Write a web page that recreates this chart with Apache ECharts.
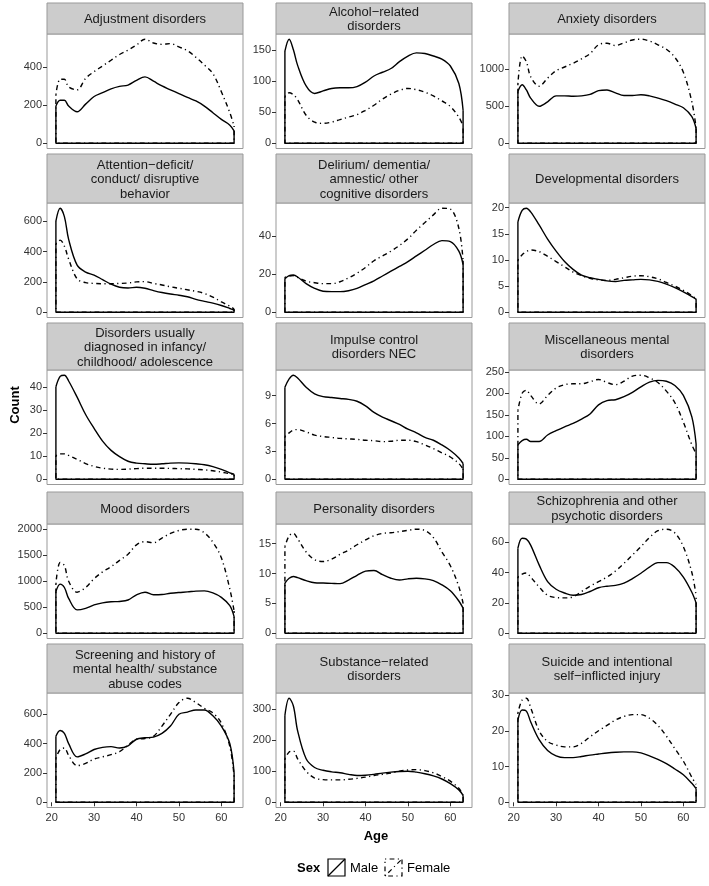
<!DOCTYPE html>
<html>
<head>
<meta charset="utf-8">
<script src="https://cdn.jsdelivr.net/npm/echarts@6/dist/echarts.min.js"></script>
<style>
  html, body { margin: 0; padding: 0; background: #fff; }
  #main { width: 709px; height: 886px; }
</style>
</head>
<body>
<div id="main"></div>
<script>
const ages = [21, 22, 23, 24, 26, 28, 30, 32, 34, 36, 38, 40, 42, 44, 46, 48, 50, 52, 54, 56, 58, 60, 62, 63];
const ageTicks = [20, 30, 40, 50, 60];

const adjustmentMale = [195, 225, 225, 195, 165, 205, 245, 265, 285, 298, 305, 330, 348, 325, 300, 280, 260, 240, 222, 195, 160, 125, 95, 65];
const adjustmentFemale = [255, 335, 335, 295, 280, 340, 375, 405, 435, 465, 488, 515, 545, 525, 518, 522, 505, 485, 450, 410, 365, 270, 160, 90];
const adjustmentTicks = [0, 200, 400];

const alcoholMale = [148, 167, 150, 125, 92, 80, 84, 88, 89, 89, 91, 98, 108, 114, 120, 131, 140, 145, 144, 140, 135, 124, 96, 53];
const alcoholFemale = [75, 81, 78, 70, 45, 34, 32, 34, 38, 42, 46, 53, 61, 71, 79, 85, 88, 86, 82, 76, 68, 59, 42, 28];
const alcoholTicks = [0, 50, 100, 150];

const anxietyMale = [700, 790, 720, 610, 500, 560, 640, 640, 635, 640, 660, 710, 720, 680, 645, 645, 655, 640, 610, 575, 530, 480, 360, 200];
const anxietyFemale = [800, 1180, 1100, 900, 770, 880, 980, 1030, 1080, 1140, 1210, 1330, 1350, 1320, 1355, 1395, 1405, 1380, 1330, 1270, 1160, 960, 560, 210];
const anxietyTicks = [0, 500, 1000];

const adhdMale = [600, 685, 630, 480, 310, 265, 245, 215, 185, 165, 160, 165, 158, 143, 130, 120, 112, 102, 85, 72, 60, 45, 25, 15];
const adhdFemale = [450, 475, 435, 350, 220, 195, 190, 188, 188, 190, 193, 200, 202, 190, 180, 168, 158, 148, 138, 124, 100, 68, 40, 22];
const adhdTicks = [0, 200, 400, 600];

const deliriumMale = [17.5, 19.2, 19.5, 18.5, 15, 12.5, 11, 10.8, 10.8, 11.3, 12.5, 14.5, 16.5, 19, 21.5, 24, 26.5, 29.5, 32.5, 35.5, 37.5, 37, 32, 25];
const deliriumFemale = [18.3, 19, 19.2, 18.3, 16.3, 15.5, 15, 15, 16, 18, 20.5, 23.5, 27, 29.5, 32, 35, 38.5, 43, 47, 51, 54.5, 54, 44, 27];
const deliriumTicks = [0, 20, 40];

const developmentalMale = [17.3, 19.5, 19.9, 19.2, 16.7, 14, 11.7, 9.7, 8.2, 7.1, 6.6, 6.3, 6, 5.9, 6.1, 6.2, 6.3, 6.2, 5.9, 5.4, 4.7, 3.9, 3, 2.5];
const developmentalFemale = [10, 11, 11.6, 11.9, 11.6, 10.7, 9.7, 8.7, 7.7, 7, 6.5, 6.2, 6.1, 6.3, 6.6, 6.9, 7, 6.8, 6.4, 5.7, 5, 4.2, 3.2, 2.6];
const developmentalTicks = [0, 5, 10, 15, 20];

const childhoodMale = [40, 44.5, 45, 42.5, 35.5, 28, 22, 16.5, 12.5, 9.8, 7.8, 7, 6.7, 6.5, 6.7, 7, 7.1, 7, 6.7, 6.3, 5.5, 4.3, 2.8, 2.2];
const childhoodFemale = [10.2, 11, 11, 10.3, 8.6, 6.8, 5.6, 4.8, 4.4, 4.3, 4.4, 4.6, 4.8, 4.8, 4.8, 4.7, 4.6, 4.5, 4.3, 4.1, 3.7, 3.1, 2.4, 2];
const childhoodTicks = [0, 10, 20, 30, 40];

const impulseMale = [9.9, 10.8, 11.2, 10.9, 9.9, 9.2, 8.9, 8.8, 8.7, 8.6, 8.4, 7.9, 7.2, 6.7, 6.3, 5.9, 5.4, 5, 4.5, 4.2, 3.7, 3.1, 2.3, 1.7];
const impulseFemale = [4.6, 5, 5.3, 5.35, 5.1, 4.75, 4.6, 4.5, 4.4, 4.35, 4.3, 4.2, 4.15, 4.05, 4.1, 4.2, 4.2, 4.05, 3.7, 3.3, 2.85, 2.4, 1.7, 1.1];
const impulseTicks = [0, 3, 6, 9];

const miscMale = [80, 90, 93, 88, 88, 103, 113, 122, 130, 140, 152, 173, 183, 185, 192, 202, 215, 226, 230, 228, 218, 195, 145, 82];
const miscFemale = [160, 200, 207, 195, 175, 195, 212, 220, 222, 222, 227, 232, 225, 220, 228, 240, 242, 236, 225, 205, 178, 133, 80, 60];
const miscTicks = [0, 50, 100, 150, 200, 250];

const moodMale = [800, 945, 880, 670, 450, 480, 545, 585, 605, 612, 640, 740, 790, 740, 745, 770, 785, 795, 810, 815, 775, 690, 530, 320];
const moodFemale = [950, 1360, 1300, 1000, 790, 880, 1050, 1180, 1280, 1400, 1520, 1700, 1760, 1740, 1830, 1920, 1975, 2000, 2000, 1930, 1750, 1450, 850, 430];
const moodTicks = [0, 500, 1000, 1500, 2000];

const personalityMale = [8.4, 9.2, 9.5, 9.3, 8.8, 8.45, 8.4, 8.35, 8.3, 8.9, 9.7, 10.4, 10.5, 9.8, 9.2, 8.9, 9.1, 9.2, 9.1, 8.8, 8.1, 7.1, 5.4, 4.2];
const personalityFemale = [14.5, 16.3, 16.7, 15.8, 13.6, 12.3, 12, 12.4, 13.2, 13.9, 14.8, 15.6, 16.3, 16.7, 16.8, 17, 17.2, 17.4, 17.2, 16, 13.6, 11.3, 7.8, 5];
const personalityTicks = [0, 5, 10, 15];

const schizoMale = [56, 62.5, 62, 58, 45, 34, 29, 26.5, 25, 25.5, 27.5, 30, 31, 31.5, 33, 36, 39.5, 43.5, 46.5, 46.5, 43.5, 37, 27, 20];
const schizoFemale = [37, 39, 39.7, 37, 30.5, 25, 23.5, 23.3, 24, 27.5, 31, 34, 37, 41, 46, 51.5, 57, 63, 67.5, 68.5, 66, 57, 40, 25];
const schizoTicks = [0, 20, 40, 60];

const screeningMale = [450, 490, 470, 400, 310, 330, 360, 375, 380, 370, 385, 430, 440, 445, 470, 520, 600, 615, 630, 630, 590, 520, 400, 200];
const screeningFemale = [300, 360, 370, 320, 250, 265, 295, 310, 325, 345, 390, 430, 435, 450, 520, 600, 680, 710, 680, 640, 610, 540, 380, 180];
const screeningTicks = [0, 200, 400, 600];

const substanceMale = [280, 335, 310, 230, 140, 112, 103, 98, 95, 90, 86, 87, 90, 94, 97, 99, 100, 97, 92, 85, 75, 60, 40, 22];
const substanceFemale = [140, 162, 165, 140, 100, 78, 73, 72, 72, 74, 77, 81, 86, 90, 94, 100, 104, 105, 102, 95, 83, 68, 45, 22];
const substanceTicks = [0, 100, 200, 300];

const suicideMale = [23, 25.8, 25.5, 22.5, 17.5, 14.5, 13, 12.5, 12.5, 12.8, 13.2, 13.5, 13.8, 14, 14.1, 14.1, 13.8, 13, 12, 10.8, 9.3, 7.7, 5.3, 3.8];
const suicideFemale = [25, 28.6, 29.1, 26.5, 20, 17, 16, 15.5, 15.5, 16.5, 18.3, 20, 21.5, 23, 24, 24.5, 24.5, 23.5, 21.5, 18.5, 15, 11.5, 7, 5];
const suicideTicks = [0, 10, 20, 30];

const titles = [
  'Adjustment disorders',
  'Alcohol\u2212related\ndisorders',
  'Anxiety disorders',
  'Attention\u2212deficit/\nconduct/ disruptive\nbehavior',
  'Delirium/ dementia/\namnestic/ other\ncognitive disorders',
  'Developmental disorders',
  'Disorders usually\ndiagnosed in infancy/\nchildhood/ adolescence',
  'Impulse control\ndisorders NEC',
  'Miscellaneous mental\ndisorders',
  'Mood disorders',
  'Personality disorders',
  'Schizophrenia and other\npsychotic disorders',
  'Screening and history of\nmental health/ substance\nabuse codes',
  'Substance\u2212related\ndisorders',
  'Suicide and intentional\nself\u2212inflicted injury'
];

const maleSets = [adjustmentMale, alcoholMale, anxietyMale, adhdMale, deliriumMale, developmentalMale,
  childhoodMale, impulseMale, miscMale, moodMale, personalityMale, schizoMale, screeningMale, substanceMale, suicideMale];
const femaleSets = [adjustmentFemale, alcoholFemale, anxietyFemale, adhdFemale, deliriumFemale, developmentalFemale,
  childhoodFemale, impulseFemale, miscFemale, moodFemale, personalityFemale, schizoFemale, screeningFemale, substanceFemale, suicideFemale];
const tickSets = [adjustmentTicks, alcoholTicks, anxietyTicks, adhdTicks, deliriumTicks, developmentalTicks,
  childhoodTicks, impulseTicks, miscTicks, moodTicks, personalityTicks, schizoTicks, screeningTicks, substanceTicks, suicideTicks];

// facet layout
const colLeft = [47, 276, 509];
const panelW = 196;
const stripTop = [3, 154, 323, 492, 644];
const stripH = [31, 49, 47, 32, 49];
const panelH = 114.5;

const FONT = '"Liberation Sans", Arial, sans-serif';
const dash = [1.2, 3.4, 4.8, 3.4];

const chart = echarts.init(document.getElementById('main'), null, { renderer: 'canvas' });

const grids = [], xAxes = [], yAxes = [], series = [], graphics = [];

const xMin = ages[0] - 0.05 * (ages[ages.length - 1] - ages[0]);
const xMax = ages[ages.length - 1] + 0.05 * (ages[ages.length - 1] - ages[0]);

function plain(v) { return String(v); }

titles.forEach(function (title, i) {
  const row = Math.floor(i / 3), col = i % 3;
  const top = stripTop[row] + stripH[row];
  const left = colLeft[col];
  const bottomRow = row === 4;

  // strip
  graphics.push({
    type: 'rect',
    shape: { x: left, y: stripTop[row], width: panelW, height: stripH[row] },
    style: { fill: '#cccccc', stroke: '#999999', lineWidth: 1 },
    z: 10
  });
  graphics.push({
    type: 'text',
    x: left + panelW / 2,
    y: stripTop[row] + stripH[row] / 2 + 1,
    style: {
      text: title, font: '13px ' + FONT, fill: '#1a1a1a',
      align: 'center', verticalAlign: 'middle', lineHeight: 14.5
    },
    z: 11
  });

  grids.push({
    left: left, top: top, width: panelW, height: panelH,
    show: true, backgroundColor: '#fff', borderColor: '#999999', borderWidth: 1
  });

  xAxes.push({
    type: 'value', gridIndex: i, min: xMin, max: xMax,
    splitLine: { show: false }, axisLine: { show: false },
    axisTick: { show: bottomRow, length: 4, lineStyle: { color: '#333' }, customValues: ageTicks },
    axisLabel: { show: bottomRow, customValues: ageTicks, formatter: plain, color: '#333', fontSize: 11, fontFamily: FONT, margin: 5 }
  });

  const male = maleSets[i], female = femaleSets[i];
  const peak = Math.max(Math.max.apply(null, male), Math.max.apply(null, female));
  yAxes.push({
    type: 'value', gridIndex: i, min: -0.05 * peak, max: 1.05 * peak,
    splitLine: { show: false }, axisLine: { show: false },
    axisTick: { show: true, length: 4, lineStyle: { color: '#333' }, customValues: tickSets[i] },
    axisLabel: { customValues: tickSets[i], formatter: plain, color: '#333', fontSize: 11, fontFamily: FONT, margin: 5 }
  });

  const n = ages.length - 1;
  [[male, 'solid'], [female, dash]].forEach(function (pair) {
    const vals = pair[0];
    series.push({
      type: 'line', xAxisIndex: i, yAxisIndex: i,
      data: ages.map(function (a, k) { return [a, vals[k]]; }),
      smooth: 0.35, symbol: 'none', silent: true,
      lineStyle: { color: '#000', width: 1.4, type: pair[1] }
    });
    // sides and base of the density outline
    series.push({
      type: 'line', xAxisIndex: i, yAxisIndex: i,
      data: [[ages[0], vals[0]], [ages[0], 0], [ages[n], 0], [ages[n], vals[n]]],
      smooth: false, symbol: 'none', silent: true,
      lineStyle: { color: '#000', width: 1.4, type: pair[1] }
    });
  });
});

// axis titles
graphics.push({
  type: 'text', x: 15, y: 405, rotation: Math.PI / 2,
  style: { text: 'Count', font: 'bold 13px ' + FONT, fill: '#000', align: 'center', verticalAlign: 'middle' }
});
graphics.push({
  type: 'text', x: 376, y: 836,
  style: { text: 'Age', font: 'bold 13px ' + FONT, fill: '#000', align: 'center', verticalAlign: 'middle' }
});

// legend
const legY = 868;
graphics.push({
  type: 'text', x: 297, y: legY,
  style: { text: 'Sex', font: 'bold 13px ' + FONT, fill: '#000', align: 'left', verticalAlign: 'middle' }
});
[['Male', 'solid', 328], ['Female', dash, 385]].forEach(function (item) {
  const kx = item[2];
  const ld = item[1] === 'solid' ? null : item[1];
  graphics.push({
    type: 'rect', shape: { x: kx, y: legY - 9, width: 17, height: 17 },
    style: { fill: '#fff', stroke: '#000', lineWidth: 1.2, lineDash: ld }
  });
  graphics.push({
    type: 'line', shape: { x1: kx, y1: legY + 8, x2: kx + 17, y2: legY - 9 },
    style: { stroke: '#000', lineWidth: 1.2, lineDash: ld }
  });
  graphics.push({
    type: 'text', x: kx + 22, y: legY,
    style: { text: item[0], font: '13px ' + FONT, fill: '#000', align: 'left', verticalAlign: 'middle' }
  });
});

chart.setOption({
  animation: false,
  backgroundColor: '#fff',
  grid: grids,
  xAxis: xAxes,
  yAxis: yAxes,
  series: series,
  graphic: graphics
});
</script>
</body>
</html>
